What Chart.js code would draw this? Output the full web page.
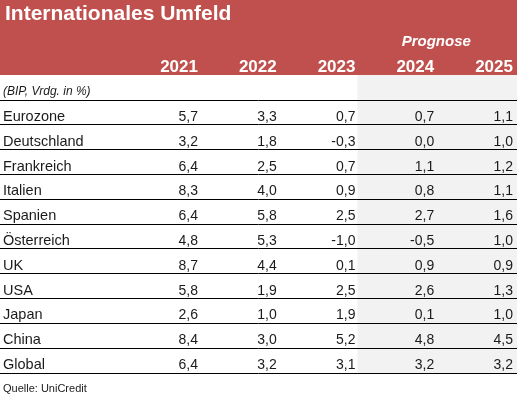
<!DOCTYPE html>
<html>
<head>
<meta charset="utf-8">
<script src="https://cdn.jsdelivr.net/npm/chart.js@4/dist/chart.umd.min.js"></script>
<style>
    html, body { margin: 0; padding: 0; background: #ffffff; }
    #wrap { width: 517px; height: 400px; position: relative; }
</style>
</head>
<body>
<div id="wrap"><canvas id="tableChart"></canvas></div>
<script>
/* ---------------------------
   Table data
---------------------------- */
const title = "Internationales Umfeld";
const forecastLabel = "Prognose";
const unitLabel = "(BIP, Vrdg. in %)";
const sourceLabel = "Quelle: UniCredit";

const countries = [
    "Eurozone", "Deutschland", "Frankreich", "Italien", "Spanien", "Österreich",
    "UK", "USA", "Japan", "China", "Global"
];
const years = ["2021", "2022", "2023", "2024", "2025"];

const values2021 = [5.7, 3.2, 6.4, 8.3, 6.4, 4.8, 8.7, 5.8, 2.6, 8.4, 6.4];
const values2022 = [3.3, 1.8, 2.5, 4.0, 5.8, 5.3, 4.4, 1.9, 1.0, 3.0, 3.2];
const values2023 = [0.7, -0.3, 0.7, 0.9, 2.5, -1.0, 0.1, 2.5, 1.9, 5.2, 3.1];
const values2024 = [0.7, 0.0, 1.1, 0.8, 2.7, -0.5, 0.9, 2.6, 0.1, 4.8, 3.2];
const values2025 = [1.1, 1.0, 1.2, 1.1, 1.6, 1.0, 0.9, 1.3, 1.0, 4.5, 3.2];

const forecastYears = ["2024", "2025"];

const series = [values2021, values2022, values2023, values2024, values2025];

/* ---------------------------
   Styling
---------------------------- */
const RED = "#c0504d";
const GREY = "#f2f2f2";
const INK = "#1a1a1a";
const FONT = "'Liberation Sans', Arial, sans-serif";

const fmt = v => v.toFixed(1).replace(".", ",");

/* ---------------------------
   Background: header band + forecast shading
---------------------------- */
const tableBackground = {
    id: "tableBackground",
    beforeDraw(chart) {
        const { ctx, chartArea, scales } = chart;
        const x = scales.x;
        const headerBottom = chartArea.top - 25;
        ctx.save();
        ctx.fillStyle = RED;
        ctx.fillRect(0, 0, chart.width, headerBottom);

        // forecast columns get a light grey background
        const firstForecast = years.indexOf(forecastYears[0]);
        const shadeLeft = x.getPixelForValue(firstForecast - 1) + 2;
        ctx.fillStyle = GREY;
        ctx.fillRect(shadeLeft, headerBottom, chartArea.right - shadeLeft, chartArea.bottom - headerBottom);
        ctx.restore();
    }
};

/* ---------------------------
   Cell text drawn at scale positions
---------------------------- */
const tableText = {
    id: "tableText",
    afterDraw(chart) {
        const { ctx, chartArea, scales } = chart;
        const x = scales.x;
        const y = scales.y;
        ctx.save();

        // title
        ctx.fillStyle = "#ffffff";
        ctx.textAlign = "left";
        ctx.textBaseline = "alphabetic";
        ctx.font = `bold 21px ${FONT}`;
        ctx.fillText(title, 5, 20);

        // forecast label centred over the forecast columns
        const f0 = years.indexOf(forecastYears[0]);
        const f1 = years.indexOf(forecastYears[forecastYears.length - 1]);
        const forecastCenter = (x.getPixelForValue(f0 - 1) + chartArea.right) / 2;
        ctx.font = `italic bold 15px ${FONT}`;
        ctx.textAlign = "center";
        ctx.fillText(forecastLabel, forecastCenter, 46);

        // year headers
        ctx.font = `bold 17px ${FONT}`;
        ctx.textAlign = "right";
        years.forEach((yr, j) => {
            ctx.fillText(yr, x.getPixelForValue(j), 72);
        });

        // unit label
        ctx.fillStyle = INK;
        ctx.textAlign = "left";
        ctx.font = `italic 12px ${FONT}`;
        ctx.fillText(unitLabel, 3, 95);

        // row labels
        ctx.font = `14.5px ${FONT}`;
        countries.forEach((c, i) => {
            ctx.fillText(c, 3, y.getPixelForValue(i) + 8.5);
        });

        // values from dataset points
        ctx.font = `14px ${FONT}`;
        ctx.textAlign = "right";
        chart.data.datasets.forEach((ds, j) => {
            chart.getDatasetMeta(j).data.forEach((pt, i) => {
                ctx.fillText(fmt(ds.data[i].v), pt.x, pt.y + 8.5);
            });
        });

        // source
        ctx.font = `11px ${FONT}`;
        ctx.textAlign = "left";
        ctx.fillText(sourceLabel, 3, 392);

        ctx.restore();
    }
};

/* ---------------------------
   Build chart
---------------------------- */
const ctx = document.getElementById("tableChart").getContext("2d");

new Chart(ctx, {
    type: "scatter",
    data: {
        datasets: series.map((vals, j) => ({
            label: years[j],
            data: vals.map((v, i) => ({ x: j, y: countries[i], v })),
            pointRadius: 0,
            pointHoverRadius: 0
        }))
    },
    options: {
        responsive: true,
        maintainAspectRatio: false,
        animation: false,
        events: [],
        layout: {
            padding: { top: 100, bottom: 27, left: 0, right: 0 }
        },
        scales: {
            x: {
                type: "linear",
                display: false,
                min: -2.514,
                max: 4.051
            },
            y: {
                type: "category",
                labels: countries,
                offset: true,
                ticks: { display: false },
                border: { display: false },
                grid: {
                    offset: true,
                    color: "#000000",
                    lineWidth: 1,
                    drawTicks: false
                },
                afterFit: scale => { scale.width = 0; }
            }
        },
        plugins: {
            legend: { display: false },
            tooltip: { enabled: false }
        }
    },
    plugins: [tableBackground, tableText]
});
</script>
</body>
</html>
